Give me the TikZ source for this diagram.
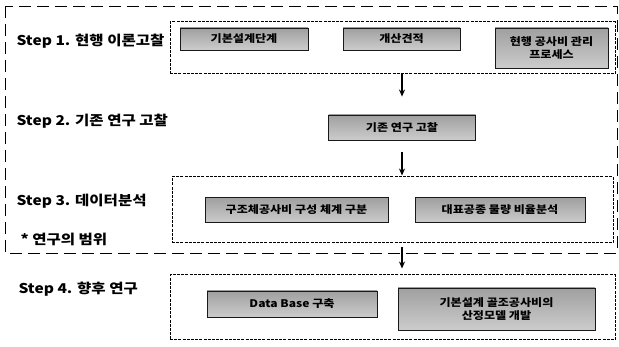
\documentclass[tikz,border=0pt]{standalone}
\usepackage{fontspec}
\setmainfont{Noto Sans CJK KR}[FakeStretch=1.15]
\usetikzlibrary{arrows.meta,positioning}

\begin{document}
\begin{tikzpicture}[x=1pt,y=-1pt,>={Stealth[length=7pt,width=6pt]},
  steplabel/.style={anchor=west,font=\bfseries\fontsize{13.5}{15}\selectfont},
  frame/.style={draw,line width=1pt,dash pattern=on 3pt off 1.2pt,inner sep=0pt},
  task/.style={draw=black!90,line width=0.9pt,top color=gray!75,bottom color=gray!40,
    inner sep=0pt,align=center,font=\bfseries\fontsize{10.5}{12.5}\selectfont},
  flow/.style={->,line width=1.3pt}]
  \useasboundingbox (0,0) rectangle (619,347);
  % outer frame: scope of the study
  \draw[line width=0.9pt,dash pattern=on 12pt off 6pt] (5,6) rectangle (617,253);
  % step labels
  \node[steplabel] (l1) at (13,41) {Step 1. 현행 이론고찰};
  \node[steplabel] (l2) at (13,121) {Step 2. 기존 연구 고찰};
  \node[steplabel] (l3) at (13,201) {Step 3. 데이터분석};
  \node[steplabel] (l0) at (17,239) {* 연구의 범위};
  \node[steplabel] (l4) at (15,289) {Step 4. 향후 연구};
  % step 1
  \node[frame,minimum width=445pt,minimum height=52pt] (f1) at (392.5,48) {};
  \node[task,minimum width=128pt,minimum height=22pt] (t11) at (244,39) {기본설계단계};
  \node[task,minimum width=117pt,minimum height=22pt] (t12) at (401.5,39) {개산견적};
  \node[task,minimum width=113pt,minimum height=40pt] (t13) at (551.5,48) {현행 공사비 관리\\프로세스};
  % step 2
  \node[task,minimum width=147pt,minimum height=25pt] (s2) at (402,127.5) {기존 연구 고찰};
  % step 3
  \node[frame,minimum width=441pt,minimum height=66pt] (f3) at (392.5,210) {};
  \node[task,minimum width=183pt,minimum height=25pt] (t31) at (296.5,210) {구조체공사비 구성 체계 구분};
  \node[task,minimum width=170pt,minimum height=25pt] (t32) at (500,210) {대표공종 물량 비율분석};
  % step 4
  \node[frame,minimum width=445pt,minimum height=65pt] (f4) at (392.5,307.5) {};
  \node[task,minimum width=170pt,minimum height=26pt] (t41) at (292,304) {Data Base 구축};
  \node[task,minimum width=197pt,minimum height=42pt] (t42) at (496.5,309) {기본설계 골조공사비의\\산정모델 개발};
  % flow
  \draw[flow,shorten >=18pt] (f1.south -| s2.north) -- (s2.north);
  \draw[flow,shorten <=12pt,shorten >=1pt] (s2.south) -- (s2.south |- f3.north);
  \draw[flow,shorten <=4pt,shorten >=6pt] (s2.south |- f3.south) -- (s2.south |- f4.north);
\end{tikzpicture}
\end{document}
